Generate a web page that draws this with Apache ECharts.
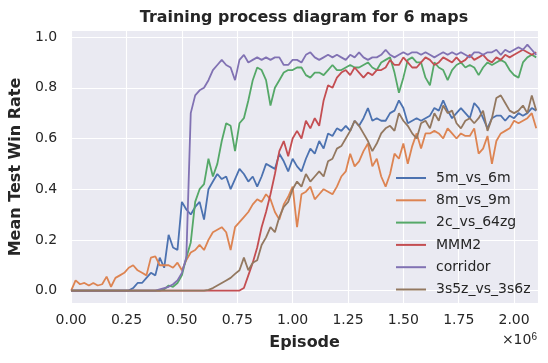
<!DOCTYPE html>
<html><head><meta charset="utf-8">
<script src="https://cdn.jsdelivr.net/npm/echarts@6/dist/echarts.min.js"></script>
<style>html,body{margin:0;padding:0;background:#fff}#c{width:548px;height:363px}</style>
</head><body><div id="c"></div>
<script>
// Episode (x 10^6)
const episodes = [0.00,0.02,0.04,0.06,0.08,0.10,0.12,0.14,0.16,0.18,0.20,0.22,0.24,0.26,0.28,0.30,0.32,0.34,0.36,0.38,
0.40,0.42,0.44,0.46,0.48,0.50,0.52,0.54,0.56,0.58,0.60,0.62,0.64,0.66,0.68,0.70,0.72,0.74,0.76,0.78,
0.80,0.82,0.84,0.86,0.88,0.90,0.92,0.94,0.96,0.98,1.00,1.02,1.04,1.06,1.08,1.10,1.12,1.14,1.16,1.18,
1.20,1.22,1.24,1.26,1.28,1.30,1.32,1.34,1.36,1.38,1.40,1.42,1.44,1.46,1.48,1.50,1.52,1.54,1.56,1.58,
1.60,1.62,1.64,1.66,1.68,1.70,1.72,1.74,1.76,1.78,1.80,1.82,1.84,1.86,1.88,1.90,1.92,1.94,1.96,1.98,
2.00,2.02,2.04,2.06,2.08,2.10];

const win5m_vs_6m = [0,0,0,0,0,0,0,0,0,0,0,0,0,0,
0.01,0.03,0.03,0.05,0.07,0.06,0.13,0.09,0.22,0.17,0.16,
0.35,0.32,0.30,0.33,0.35,0.28,0.40,0.43,0.46,0.44,0.45,0.40,0.44,0.48,0.46,0.43,0.45,0.41,0.45,0.50,0.49,0.48,0.54,0.51,0.47,
0.52,0.49,0.47,0.52,0.56,0.54,0.59,0.56,0.62,0.61,0.64,0.63,0.65,0.63,0.67,0.65,0.68,0.72,0.67,0.68,0.67,0.67,0.70,0.71,0.75,
0.72,0.66,0.67,0.68,0.67,0.68,0.69,0.72,0.71,0.75,0.71,0.68,0.70,0.72,0.70,0.68,0.74,0.72,0.68,0.64,0.68,0.69,0.69,0.67,0.69,
0.68,0.70,0.69,0.70,0.72,0.71];

const win8m_vs_9m = [0.00,0.04,0.025,0.03,0.02,0.03,0.02,0.025,0.055,0.015,0.05,0.06,0.07,0.09,0.10,0.08,0.07,0.06,0.13,0.135,0.10,0.10,0.10,0.09,0.11,
0.08,0.12,0.15,0.16,0.18,0.16,0.20,0.23,0.24,0.25,0.23,0.16,0.25,0.27,0.29,0.31,0.34,0.36,0.35,0.38,0.36,0.31,0.28,0.34,0.37,
0.41,0.25,0.38,0.39,0.41,0.36,0.38,0.40,0.39,0.38,0.41,0.45,0.47,0.54,0.49,0.51,0.55,0.58,0.49,0.52,0.45,0.41,0.46,0.54,0.52,
0.58,0.50,0.57,0.62,0.56,0.62,0.62,0.63,0.62,0.60,0.64,0.62,0.60,0.62,0.61,0.61,0.64,0.54,0.56,0.61,0.50,0.59,0.62,0.63,0.64,
0.67,0.66,0.67,0.68,0.70,0.64];

const win2c_vs_64zg = [0,0,0,0,0,0,0,0,0,0,0,0,0,0,0,0,0,0,0,0,0,
0.005,0.02,0.015,0.03,
0.06,0.13,0.19,0.35,0.40,0.42,0.52,0.45,0.50,0.59,0.66,0.65,0.55,0.66,0.68,0.75,0.83,0.88,0.87,0.83,0.73,0.80,0.83,0.86,0.87,
0.87,0.88,0.88,0.85,0.84,0.86,0.86,0.85,0.87,0.89,0.87,0.87,0.88,0.89,0.88,0.88,0.89,0.90,0.88,0.87,0.90,0.91,0.92,0.86,0.78,
0.84,0.91,0.92,0.90,0.90,0.84,0.81,0.90,0.88,0.87,0.83,0.87,0.89,0.90,0.88,0.89,0.88,0.85,0.88,0.90,0.89,0.90,0.91,0.90,0.87,
0.85,0.84,0.90,0.92,0.93,0.92];

const winMMM2 = [0,0,0,0,0,0,0,0,0,0,0,0,0,0,0,0,0,0,0,0,0,0,0,0,0,0,0,0,0,0,0,0,0,0,0,0,0,0,0,
0.01,0.06,0.11,0.17,0.25,0.31,0.38,0.46,0.55,0.59,0.53,
0.60,0.63,0.60,0.67,0.64,0.68,0.65,0.75,0.81,0.80,0.84,0.86,0.87,0.85,0.88,0.86,0.84,0.86,0.85,0.87,0.87,0.88,0.91,0.89,0.89,
0.92,0.90,0.88,0.88,0.90,0.92,0.91,0.89,0.90,0.92,0.91,0.90,0.92,0.90,0.91,0.93,0.91,0.92,0.93,0.91,0.90,0.92,0.91,0.93,0.92,
0.93,0.94,0.95,0.94,0.93,0.94];

const winCorridor = [0,0,0,0,0,0,0,0,0,0,0,0,0,0,0,0,0,0,0,0,
0.005,0.01,0.015,0.025,0.04,
0.07,0.13,0.70,0.77,0.79,0.80,0.83,0.87,0.89,0.91,0.89,0.88,0.83,0.91,0.93,0.90,0.91,0.92,0.91,0.92,0.91,0.92,0.92,0.89,0.89,
0.91,0.91,0.90,0.93,0.94,0.92,0.91,0.92,0.93,0.92,0.93,0.92,0.91,0.93,0.92,0.94,0.92,0.91,0.92,0.92,0.93,0.95,0.93,0.92,0.93,
0.94,0.93,0.94,0.94,0.93,0.94,0.93,0.92,0.93,0.94,0.93,0.94,0.93,0.94,0.93,0.92,0.94,0.94,0.93,0.94,0.94,0.95,0.93,0.95,0.94,
0.95,0.96,0.95,0.97,0.95,0.93];

const win3s5z_vs_3s6z = [0,0,0,0,0,0,0,0,0,0,0,0,0,0,0,0,0,0,0,0,0,0,0,0,0,0,0,0,0,0,0,
0.003,0.01,0.02,0.03,0.04,0.05,0.066,0.08,0.13,0.08,0.11,0.12,0.18,0.21,0.25,0.23,0.29,0.33,0.35,
0.40,0.43,0.41,0.46,0.43,0.45,0.47,0.45,0.51,0.52,0.56,0.57,0.60,0.63,0.67,0.65,0.62,0.59,0.55,0.58,0.62,0.64,0.65,0.63,0.70,
0.67,0.65,0.62,0.60,0.66,0.67,0.64,0.70,0.67,0.73,0.70,0.71,0.66,0.64,0.67,0.68,0.66,0.68,0.71,0.63,0.68,0.76,0.77,0.74,0.71,
0.70,0.71,0.73,0.70,0.77,0.71];

const seriesNames = ['5m_vs_6m','8m_vs_9m','2c_vs_64zg','MMM2','corridor','3s5z_vs_3s6z'];
const seriesValues = [win5m_vs_6m, win8m_vs_9m, win2c_vs_64zg, winMMM2, winCorridor, win3s5z_vs_3s6z];
const colors = ['#4C72B0','#DD8452','#55A868','#C44E52','#8172B3','#937860'];
const yTickValues = [0, 0.2, 0.4, 0.6, 0.8, 1.0];
const titleText = 'Training process diagram for 6 maps';

const FONT = 'DejaVu Sans';
const TXT = '#262626';
const chart = echarts.init(document.getElementById('c'), null, {renderer: 'canvas'});
const option = {
  animation: false,
  textStyle: {fontFamily: FONT},
  grid: {left: 70, right: 10, top: 31, bottom: 60, show: true, backgroundColor: '#EAEAF2', borderWidth: 0},
  xAxis: {
    type: 'value', min: 0, max: 2.108, interval: 0.25,
    axisLine: {show: false}, axisTick: {show: false},
    splitLine: {show: true, lineStyle: {color: '#ffffff', width: 1.1}},
    axisLabel: {formatter: v => v.toFixed(2), fontSize: 14, color: TXT, margin: 10, showMaxLabel: false, fontFamily: FONT},
    name: 'Episode', nameLocation: 'middle', nameGap: 32,
    nameTextStyle: {fontSize: 16, fontWeight: 'bold', color: TXT, fontFamily: FONT}
  },
  yAxis: {
    type: 'value', min: -0.049, max: 1.024,
    axisLine: {show: false},
    axisTick: {show: false, customValues: yTickValues},
    splitLine: {show: true, lineStyle: {color: '#ffffff', width: 1.1}},
    axisLabel: {customValues: yTickValues, formatter: v => v.toFixed(1), fontSize: 14, color: TXT, margin: 14, fontFamily: FONT},
    name: 'Mean Test Win Rate', nameLocation: 'middle', nameGap: 44,
    nameTextStyle: {fontSize: 16, fontWeight: 'bold', color: TXT, fontFamily: FONT}
  },
  legend: {
    orient: 'vertical', left: 391, top: 166, itemWidth: 30, itemHeight: 2, itemGap: 8.3,
    icon: 'rect',
    textStyle: {fontSize: 14, color: TXT, fontFamily: FONT, padding: [0, 0, 0, 5]},
    data: seriesNames
  },
  graphic: [
    {type: 'text', x: 304, y: 18, style: {text: titleText, font: 'bold 15.9px "DejaVu Sans"', fill: TXT, align: 'center', verticalAlign: 'middle'}},
    {type: 'text', right: 11, top: 332, style: {text: '×10{s|6}', rich: {s: {fontSize: 10, verticalAlign: 'top', padding: [0,0,6,0]}}, font: '14px "DejaVu Sans"', fill: TXT}}
  ],
  series: seriesNames.map((name, k) => ({
    name: name, type: 'line', symbol: 'none', showSymbol: false,
    color: colors[k],
    lineStyle: {width: 1.8, color: colors[k]},
    data: episodes.map((x, i) => [x, seriesValues[k][i]])
  }))
};
chart.setOption(option);
</script></body></html>
